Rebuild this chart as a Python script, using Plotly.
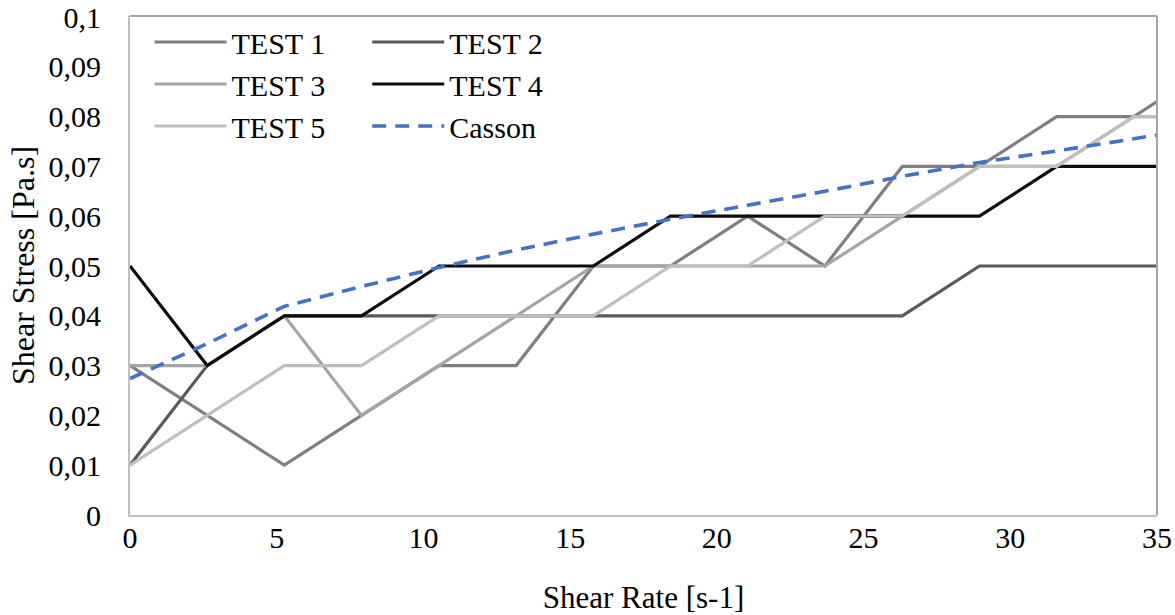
import plotly.graph_objects as go

# Shear rate points (s-1) and measured shear stress for each run
shear_rate = [0, 2.63, 5.26, 7.89, 10.53, 13.16, 15.79, 18.42, 21.05, 23.68,
              26.32, 28.95, 31.58, 34.21, 36.84]
test1 = [0.03, 0.02, 0.01, 0.02, 0.03, 0.03, 0.05, 0.05, 0.06, 0.05, 0.07, 0.07, 0.08, 0.08, 0.09]
test2 = [0.01, 0.03, 0.04, 0.04, 0.04, 0.04, 0.04, 0.04, 0.04, 0.04, 0.04, 0.05, 0.05, 0.05, 0.05]
test3 = [0.03, 0.03, 0.04, 0.02, 0.03, 0.04, 0.05, 0.05, 0.05, 0.05, 0.06, 0.07, 0.07, 0.08, 0.08]
test4 = [0.05, 0.03, 0.04, 0.04, 0.05, 0.05, 0.05, 0.06, 0.06, 0.06, 0.06, 0.06, 0.07, 0.07, 0.07]
test5 = [0.01, 0.02, 0.03, 0.03, 0.04, 0.04, 0.04, 0.05, 0.05, 0.06, 0.06, 0.07, 0.07, 0.08, 0.08]
casson = [0.0274, 0.0344, 0.0419, 0.0459, 0.0497, 0.0532, 0.0564, 0.0594, 0.0622, 0.0650,
          0.0680, 0.0708, 0.0731, 0.0756, 0.0780]

x_tick_vals = [0, 5, 10, 15, 20, 25, 30, 35]
x_tick_text = ["0", "5", "10", "15", "20", "25", "30", "35"]
y_tick_vals = [0, 0.01, 0.02, 0.03, 0.04, 0.05, 0.06, 0.07, 0.08, 0.09, 0.1]
y_tick_text = ["0", "0,01", "0,02", "0,03", "0,04", "0,05", "0,06", "0,07", "0,08", "0,09", "0,1"]

FONT = "Times New Roman, Liberation Serif, serif"
LW = 3.2

series = [
    ("TEST 1", test1, "#7F7F7F", "solid", "legend"),
    ("TEST 2", test2, "#595959", "solid", "legend2"),
    ("TEST 3", test3, "#A5A5A5", "solid", "legend"),
    ("TEST 4", test4, "#0D0D0D", "solid", "legend2"),
    ("TEST 5", test5, "#BFBFBF", "solid", "legend"),
    ("Casson", casson, "#4472C4", "14px,9px", "legend2"),
]

fig = go.Figure()
for name, vals, color, dash, leg in series:
    fig.add_trace(go.Scatter(
        x=shear_rate, y=vals, name=name, mode="lines",
        line=dict(color=color, width=3.6 if name == "Casson" else LW, dash=dash),
        legend=leg,
    ))

legend_style = dict(
    font=dict(family=FONT, size=30, color="#000000"),
    bgcolor="rgba(0,0,0,0)",
    itemwidth=72,
    tracegroupgap=0,
    yanchor="top",
    xanchor="left",
    traceorder="normal",
)

fig.update_layout(
    width=1175, height=615,
    margin=dict(l=130, r=18, t=16, b=100, autoexpand=False),
    paper_bgcolor="white",
    plot_bgcolor="white",
    font=dict(family=FONT, size=30, color="#000000"),
    legend=dict(x=0.019, y=1.0, **legend_style),
    legend2=dict(x=0.231, y=1.0, **legend_style),
    xaxis=dict(
        range=[0, 35], automargin=False,
        tickvals=x_tick_vals, ticktext=x_tick_text,
        showgrid=False, zeroline=False,
        showline=True, linecolor="#BFBFBF", linewidth=2,
        ticks="", ticklabelstandoff=-5,
        tickfont=dict(family=FONT, size=30, color="#000000"),
        title=dict(text="Shear Rate [s-1]", standoff=33,
                   font=dict(family=FONT, size=31, color="#000000")),
    ),
    yaxis=dict(
        range=[0, 0.1002], automargin=False,
        tickvals=y_tick_vals, ticktext=y_tick_text,
        showgrid=False, zeroline=False,
        showline=True, linecolor="#BFBFBF", linewidth=2,
        ticks="", ticklabelstandoff=21,
        tickfont=dict(family=FONT, size=30, color="#000000"),
        title=dict(text="Shear Stress [Pa.s]", standoff=4,
                   font=dict(family=FONT, size=32, color="#000000")),
    ),
    shapes=[
        dict(type="line", xref="paper", yref="paper", x0=0, x1=1, y0=1, y1=1,
             line=dict(color="#A6A6A6", width=2)),
        dict(type="line", xref="paper", yref="paper", x0=1, x1=1, y0=0, y1=1,
             line=dict(color="#A6A6A6", width=2)),
    ],
)

fig.write_html("out.html")
